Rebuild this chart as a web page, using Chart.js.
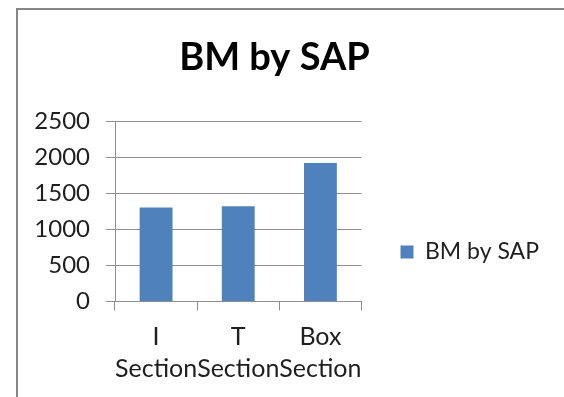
<!DOCTYPE html>
<html lang="en">
<head>
<meta charset="UTF-8">
<title>BM by SAP</title>
<script src="https://cdn.jsdelivr.net/npm/chart.js@4.4.1/dist/chart.umd.min.js"></script>
<style>
  html, body { margin: 0; padding: 0; background: #fff; overflow: hidden; }
  #contenedor { position: relative; width: 564px; height: 397px; }
  /* marco gris del gráfico, se sale por la derecha y por abajo */
  #marco { position: absolute; left: 16px; top: 8px; width: 700px; height: 500px; border: 2px solid #868686; pointer-events: none; }
</style>
</head>
<body>
<div id="contenedor">
  <canvas id="myChart" width="564" height="397"></canvas>
  <div id="marco"></div>
</div>
<script>
// Datos del gráfico
const categorias = [["I", "Section"], ["T", "Section"], ["Box", "Section"]];
const valoresBM = [1305, 1325, 1925];
const ticksY = [0, 500, 1000, 1500, 2000, 2500];
const nombreSerie = "BM by SAP";

const colorBarra = "#4F81BD";
const colorGris = "#8E8E8E";
const colorTexto = "#1F1F1F";

Chart.defaults.font.family = "Lato";
Chart.defaults.color = colorTexto;

// La leyenda en Excel queda centrada más abajo, la movemos después del layout
const bajarLeyenda = {
  id: "bajarLeyenda",
  afterLayout(chart) {
    chart.legend.top += 54;
    chart.legend.bottom += 54;
  },
};

const config = {
  type: "bar",
  data: {
    labels: categorias,
    datasets: [
      {
        label: nombreSerie,
        data: valoresBM,
        backgroundColor: colorBarra,
        borderWidth: 0,
        barPercentage: 0.4,
        categoryPercentage: 1,
      },
    ],
  },
  options: {
    responsive: false,
    animation: false,
    layout: {
      padding: { top: 0, bottom: 1, left: 0, right: 15 },
    },
    plugins: {
      title: {
        display: true,
        text: nombreSerie,
        color: "#000",
        font: { family: "Lato", size: 38, weight: "bold" },
        padding: { top: 35, bottom: 41 },
      },
      legend: {
        position: "right",
        maxWidth: 260,
        labels: {
          boxWidth: 13,
          boxHeight: 13,
          padding: 39,
          color: colorTexto,
          font: { size: 23 },
        },
      },
      tooltip: { enabled: false },
    },
    scales: {
      x: {
        grid: {
          drawOnChartArea: false,
          drawTicks: true,
          tickLength: 9,
          color: colorGris,
          offset: true,
        },
        border: { color: colorGris },
        ticks: {
          autoSkip: false,
          maxRotation: 0,
          minRotation: 0,
          padding: 11,
          font: { size: 25, lineHeight: 1.27 },
        },
      },
      y: {
        min: ticksY[0],
        max: ticksY[ticksY.length - 1],
        afterFit(escala) {
          escala.width = 115;
        },
        grid: {
          color: colorGris,
          drawTicks: true,
          tickLength: 9,
        },
        border: { color: colorGris },
        ticks: {
          stepSize: ticksY[1] - ticksY[0],
          padding: 16,
          font: { size: 24 },
          callback: (valor) => String(valor),
        },
      },
    },
  },
  plugins: [bajarLeyenda],
};

const chartDOM = document.getElementById("myChart");
const myChart = new Chart(chartDOM, config);
</script>
</body>
</html>
